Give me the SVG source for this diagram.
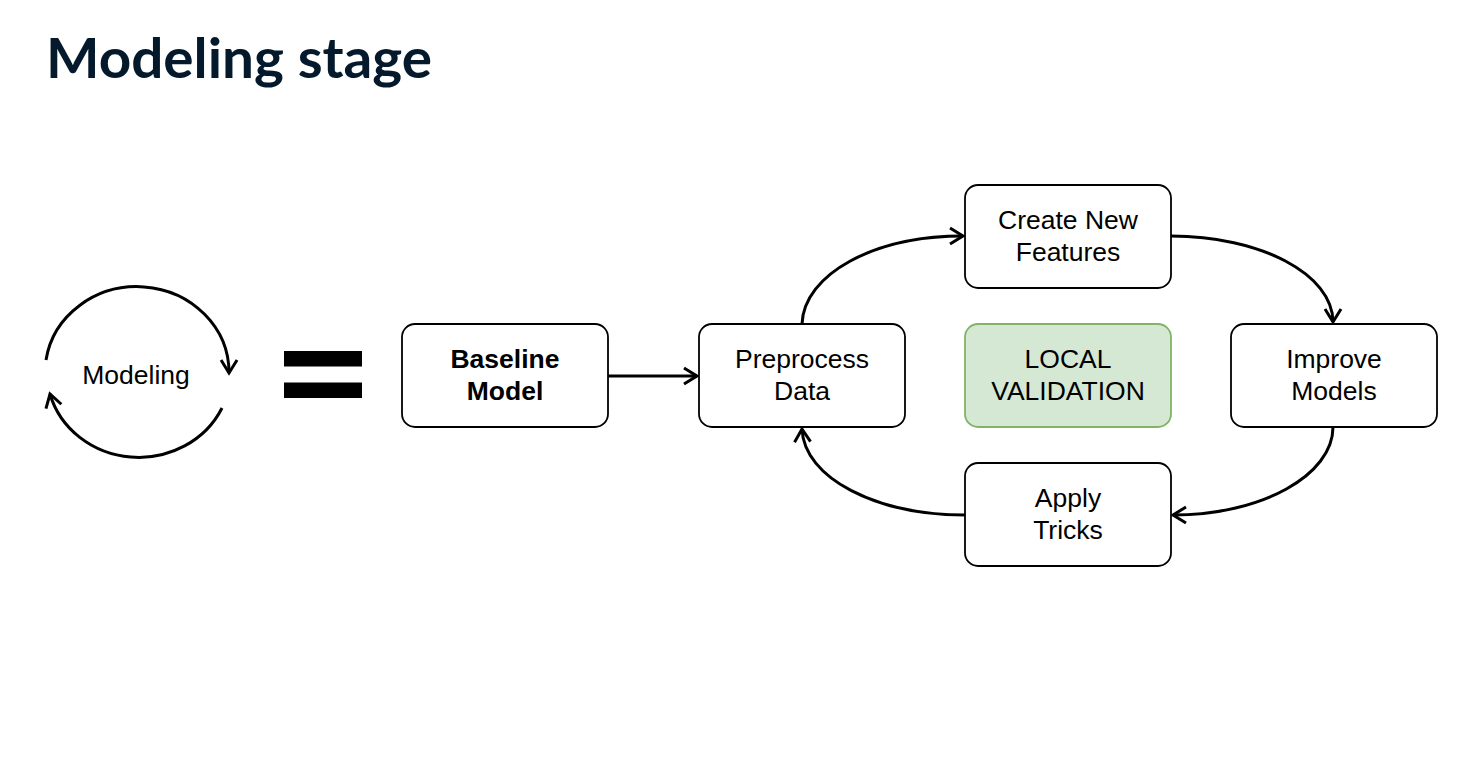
<svg xmlns="http://www.w3.org/2000/svg" width="1480" height="760" viewBox="0 0 1480 760">
  <defs>
    <marker id="arr" viewBox="0 0 24 24" refX="21" refY="12" markerWidth="24" markerHeight="24" markerUnits="userSpaceOnUse" orient="auto">
      <path d="M8,4 L21,12 L8,20" fill="none" stroke="#000" stroke-width="3" stroke-linejoin="miter"/>
    </marker>
    <style>
      .box { fill: #ffffff; stroke: #000000; stroke-width: 1.8; }
      .green { fill: #d5e8d4; stroke: #82b366; stroke-width: 1.8; }
      .lbl { font-family: "Liberation Sans", Arial, sans-serif; font-size: 26.5px; fill: #000; text-anchor: middle; }
      .bold { font-weight: bold; }
      .con { fill: none; stroke: #000; stroke-width: 3; }
      .title { font-family: Lato, "Liberation Sans", sans-serif; font-weight: 700; font-size: 56px; fill: #05192d; }
    </style>
  </defs>
  <rect width="1480" height="760" fill="#ffffff"/>

  <text class="title" x="46" y="78" textLength="386" lengthAdjust="spacingAndGlyphs">Modeling stage</text>

  <g id="modeling-cycle">
    <path class="con" d="M46 360 A 92 86 0 0 1 229 373" marker-end="url(#arr)"/>
    <path class="con" d="M222 408 A 92 86 0 0 1 50 394" marker-end="url(#arr)"/>
    <text class="lbl" x="136" y="384">Modeling</text>
  </g>

  <g id="equals">
    <rect x="284" y="351" width="78" height="15.5" fill="#000"/>
    <rect x="284" y="382.5" width="78" height="15.5" fill="#000"/>
  </g>

  <g id="connectors">
    <path class="con" d="M608 376 L697 376" marker-end="url(#arr)"/>
    <path class="con" d="M802 324 C 804 274, 874 236, 963 236" marker-end="url(#arr)"/>
    <path class="con" d="M1171 236 C 1260 236, 1333 274, 1333 322" marker-end="url(#arr)"/>
    <path class="con" d="M1333 427 C 1333 475, 1262 515, 1173 515" marker-end="url(#arr)"/>
    <path class="con" d="M965 515 C 876 515, 804 478, 802 429" marker-end="url(#arr)"/>
  </g>

  <g id="baseline-model">
    <rect class="box" x="402" y="324" width="206" height="103" rx="13"/>
    <text class="lbl bold" x="505" y="368">Baseline</text>
    <text class="lbl bold" x="505" y="400">Model</text>
  </g>

  <g id="preprocess-data">
    <rect class="box" x="699" y="324" width="206" height="103" rx="13"/>
    <text class="lbl" x="802" y="368">Preprocess</text>
    <text class="lbl" x="802" y="400">Data</text>
  </g>

  <g id="create-new-features">
    <rect class="box" x="965" y="185" width="206" height="103" rx="13"/>
    <text class="lbl" x="1068" y="229">Create New</text>
    <text class="lbl" x="1068" y="261">Features</text>
  </g>

  <g id="local-validation">
    <rect class="green" x="965" y="324" width="206" height="103" rx="13"/>
    <text class="lbl" x="1068" y="368">LOCAL</text>
    <text class="lbl" x="1068" y="400">VALIDATION</text>
  </g>

  <g id="improve-models">
    <rect class="box" x="1231" y="324" width="206" height="103" rx="13"/>
    <text class="lbl" x="1334" y="368">Improve</text>
    <text class="lbl" x="1334" y="400">Models</text>
  </g>

  <g id="apply-tricks">
    <rect class="box" x="965" y="463" width="206" height="103" rx="13"/>
    <text class="lbl" x="1068" y="507">Apply</text>
    <text class="lbl" x="1068" y="539">Tricks</text>
  </g>
</svg>
